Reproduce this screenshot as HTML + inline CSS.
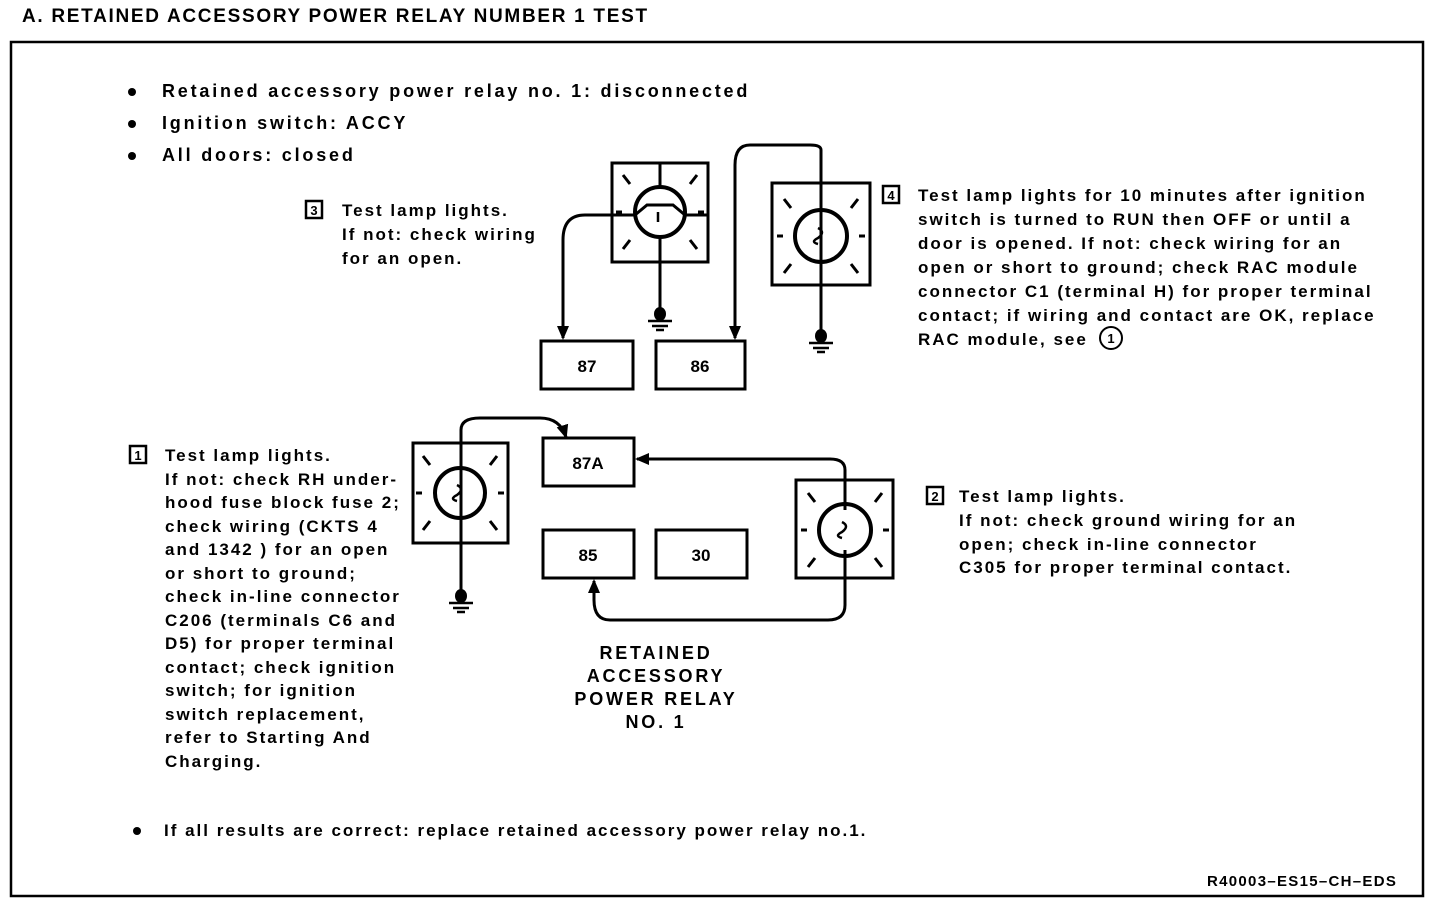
<!DOCTYPE html>
<html><head><meta charset="utf-8"><style>
html,body{margin:0;padding:0;background:#fff}
svg{display:block}
text{font-family:"Liberation Sans",sans-serif;font-weight:bold;fill:#000}
</style></head><body>
<svg width="1440" height="902" viewBox="0 0 1440 902" xmlns="http://www.w3.org/2000/svg">
<defs>
<marker id="ar" markerWidth="14" markerHeight="14" refX="12" refY="6" orient="auto" markerUnits="userSpaceOnUse" viewBox="0 0 14 12">
<path d="M0,0 L14,6 L0,12 z" fill="#000"/></marker>
<g id="gnd">
<path d="M0,-12 L0,2" stroke="#000" stroke-width="3"/>
<ellipse cx="0" cy="6" rx="6" ry="7" fill="#000"/>
<path d="M-12,13 H12 M-8,18 H8 M-4,22 H4" stroke="#000" stroke-width="2.5"/>
</g>
<g id="rays" stroke="#000" stroke-width="3">
<path d="M-37,-37 L-30,-28 M37,-37 L30,-28 M-37,37 L-30,28 M37,37 L30,28 M-44,0 H-38 M44,0 H38"/>
</g>
</defs>
<text x="22" y="22" font-size="19" letter-spacing="1.7">A. RETAINED ACCESSORY POWER RELAY NUMBER 1 TEST</text>
<rect x="11" y="42" width="1412" height="854" fill="none" stroke="#000" stroke-width="2.5"/>

<g font-size="18" letter-spacing="2.8">
<circle cx="132" cy="92" r="4"/><text x="162" y="97">Retained accessory power relay no. 1: disconnected</text>
<circle cx="132" cy="124" r="4"/><text x="162" y="129">Ignition switch: ACCY</text>
<circle cx="132" cy="156" r="4"/><text x="162" y="161">All doors: closed</text>
</g>

<g fill="none" stroke="#000" stroke-width="3">
<rect x="541" y="341" width="92" height="48"/>
<rect x="656" y="341" width="89" height="48"/>
<rect x="543" y="438" width="91" height="48"/>
<rect x="543" y="530" width="91" height="48"/>
<rect x="656" y="530" width="91" height="48"/>
<!-- lamp 3 -->
<rect x="612" y="163" width="96" height="99"/>
<circle cx="660" cy="212" r="25" stroke-width="4"/>
<path d="M660,163 V187 M612,215 H635 M685,215 H708 M660,237 V296"/>
<path d="M635,215 L647,205 H673 L685,215"/>
<path d="M612,215 H585 Q563,215 563,240 V338" marker-end="url(#ar)"/>
<!-- lamp 4 -->
<rect x="772" y="183" width="98" height="102"/>
<circle cx="821" cy="236" r="26" stroke-width="4"/>
<path d="M821,330 V150 Q821,145 810,145 H750 Q735,145 735,165 V338" marker-end="url(#ar)"/>
<!-- lamp 1 -->
<rect x="413" y="443" width="95" height="100"/>
<circle cx="460" cy="493" r="25" stroke-width="4"/>
<path d="M461,588 V430 Q461,418 480,418 H540 Q560,418 566,437" marker-end="url(#ar)"/>
<!-- lamp 2 -->
<rect x="796" y="480" width="97" height="98"/>
<circle cx="845" cy="530" r="26" stroke-width="4"/>
<path d="M845,510 V470 Q845,459 830,459 H637" marker-end="url(#ar)"/>
<path d="M845,550 V605 Q845,620 828,620 H610 Q594,620 594,600 V581" marker-end="url(#ar)"/>
</g>
<g stroke="#000" stroke-width="2.5" fill="none">
<path d="M842,522 q8,4 0,10 q-8,4 0,6"/>
<path d="M818,228 q8,4 0,10 q-8,4 0,6"/>
<path d="M457,485 q8,4 0,10 q-8,4 0,6"/>
<path d="M658,212 v10"/>
</g>
<use href="#rays" x="660" y="212"/>
<use href="#rays" x="821" y="236"/>
<use href="#rays" x="460" y="493"/>
<use href="#rays" x="845" y="530"/>
<use href="#gnd" x="660" y="308"/>
<use href="#gnd" x="821" y="330"/>
<use href="#gnd" x="461" y="590"/>

<g font-size="17" text-anchor="middle">
<text x="587" y="372">87</text><text x="700" y="372">86</text>
<text x="588" y="469">87A</text><text x="588" y="561">85</text><text x="701" y="561">30</text>
</g>
<g font-size="18" letter-spacing="2.8" text-anchor="middle">
<text x="656" y="659">RETAINED</text><text x="656" y="682">ACCESSORY</text>
<text x="656" y="705">POWER RELAY</text><text x="656" y="728">NO. 1</text>
</g>

<g fill="none" stroke="#000" stroke-width="2.5">
<rect x="306" y="201" width="16" height="17"/>
<rect x="883" y="186" width="16" height="17"/>
<rect x="130" y="446" width="16" height="17"/>
<rect x="927" y="487" width="16" height="17"/>
<circle cx="1111" cy="338" r="11" stroke-width="2"/>
</g>
<g font-size="13" text-anchor="middle">
<text x="314" y="215">3</text><text x="891" y="200">4</text><text x="138" y="460">1</text><text x="935" y="501">2</text><text x="1111" y="343">1</text>
</g>

<g font-size="17" letter-spacing="2">
<text x="342" y="216">Test lamp lights.</text>
<text x="342" y="240">If not: check wiring</text>
<text x="342" y="264">for an open.</text>

<text x="918" y="201">Test lamp lights for 10 minutes after ignition</text>
<text x="918" y="225">switch is turned to RUN then OFF or until a</text>
<text x="918" y="249">door is opened. If not: check wiring for an</text>
<text x="918" y="273">open or short to ground; check RAC module</text>
<text x="918" y="297">connector C1 (terminal H) for proper terminal</text>
<text x="918" y="321">contact; if wiring and contact are OK, replace</text>
<text x="918" y="345">RAC module, see</text>

<text x="165" y="461">Test lamp lights.</text>
<text x="165" y="485">If not: check RH under-</text>
<text x="165" y="508">hood fuse block fuse 2;</text>
<text x="165" y="532">check wiring (CKTS 4</text>
<text x="165" y="555">and 1342 ) for an open</text>
<text x="165" y="579">or short to ground;</text>
<text x="165" y="602">check in-line connector</text>
<text x="165" y="626">C206 (terminals C6 and</text>
<text x="165" y="649">D5) for proper terminal</text>
<text x="165" y="673">contact; check ignition</text>
<text x="165" y="696">switch; for ignition</text>
<text x="165" y="720">switch replacement,</text>
<text x="165" y="743">refer to Starting And</text>
<text x="165" y="767">Charging.</text>

<text x="959" y="502">Test lamp lights.</text>
<text x="959" y="526">If not: check ground wiring for an</text>
<text x="959" y="550">open; check in-line connector</text>
<text x="959" y="573">C305 for proper terminal contact.</text>

<text x="164" y="836">If all results are correct: replace retained accessory power relay no.1.</text>
</g>
<circle cx="137" cy="831" r="4"/>
<text x="1207" y="886" font-size="15" letter-spacing="1.3">R40003–ES15–CH–EDS</text>
</svg>
</body></html>
